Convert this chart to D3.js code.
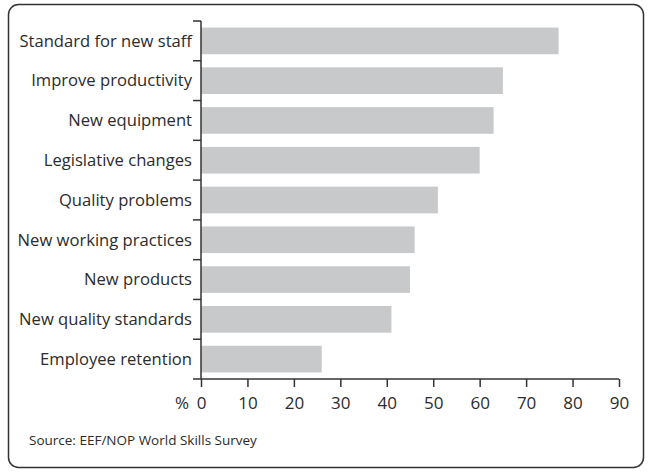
<!DOCTYPE html>
<html>
<head>
<meta charset="utf-8">
<script src="https://cdn.jsdelivr.net/npm/d3@7"></script>
<style>
  html, body { margin: 0; padding: 0; background: #fff; }
  svg { display: block; }
  text { font-family: "Open Sans", "Noto Sans", sans-serif; fill: #2b2b2b; }
</style>
</head>
<body>
<script>
// Reasons for training (% of companies)
const categories = [
  "Standard for new staff",
  "Improve productivity",
  "New equipment",
  "Legislative changes",
  "Quality problems",
  "New working practices",
  "New products",
  "New quality standards",
  "Employee retention"
];
const values = [77, 65, 63, 60, 51, 46, 45, 41, 26];
const xTicks = [0, 10, 20, 30, 40, 50, 60, 70, 80, 90];
const unitLabel = "%";
const sourceText = "Source: EEF/NOP World Skills Survey";

const W = 648, H = 472;
const margin = { left: 201, right: 29, top: 21, bottom: 93 };
const fontFamily = "\"Open Sans\", \"Noto Sans\", sans-serif";

const svg = d3.select("body").append("svg")
  .attr("width", W).attr("height", H);

// Rounded outer frame
svg.append("rect")
  .attr("x", 8.5).attr("y", 4.5)
  .attr("width", 635).attr("height", 463)
  .attr("rx", 10).attr("ry", 10)
  .attr("fill", "none").attr("stroke", "#333").attr("stroke-width", 1.5);

const x = d3.scaleLinear()
  .domain([0, 90])
  .range([margin.left, W - margin.right]);

const y = d3.scaleBand()
  .domain(categories)
  .range([margin.top, H - margin.bottom])
  .paddingInner(0.33)
  .paddingOuter(0.165);

// Bars
svg.append("g").selectAll("rect")
  .data(categories)
  .join("rect")
  .attr("x", x(0))
  .attr("y", d => y(d))
  .attr("width", (d, i) => x(values[i]) - x(0))
  .attr("height", y.bandwidth())
  .attr("fill", "#c8c9cb");

// Category axis: line with ticks at band boundaries
const yAxisG = svg.append("g");
yAxisG.append("line")
  .attr("x1", x(0)).attr("x2", x(0))
  .attr("y1", margin.top).attr("y2", H - margin.bottom)
  .attr("stroke", "#333").attr("stroke-width", 1.5);
const boundaries = categories.map(c => y(c) - y.step() * y.paddingInner() / 2);
yAxisG.selectAll(".bt")
  .data(boundaries)
  .join("line")
  .attr("x1", x(0) - 8).attr("x2", x(0))
  .attr("y1", d => d).attr("y2", d => d)
  .attr("stroke", "#333").attr("stroke-width", 1.5);
yAxisG.selectAll("text")
  .data(categories)
  .join("text")
  .attr("x", x(0) - 9)
  .attr("y", d => y(d) + y.bandwidth() / 2)
  .attr("dy", "0.35em")
  .attr("text-anchor", "end")
  .attr("font-size", 16.6)
  .text(d => d);

// Value axis
const xAxis = d3.axisBottom(x)
  .tickValues(xTicks)
  .tickSize(8)
  .tickSizeOuter(0)
  .tickPadding(10);
const xAxisG = svg.append("g")
  .attr("transform", `translate(0,${H - margin.bottom})`)
  .call(xAxis);
xAxisG.select(".domain")
  .attr("stroke", "#333").attr("stroke-width", 1.5)
  .attr("d", `M${x(0) - 8},0H${x(90)}`);
xAxisG.selectAll(".tick line").attr("stroke", "#333").attr("stroke-width", 1.5);
xAxisG.selectAll(".tick text")
  .attr("font-size", 17)
  .attr("font-family", fontFamily)
  .attr("fill", "#2b2b2b");

svg.append("text")
  .attr("x", x(0) - 12)
  .attr("y", H - margin.bottom + 18)
  .attr("dy", "0.71em")
  .attr("text-anchor", "end")
  .attr("font-size", 17)
  .text(unitLabel);

svg.append("text")
  .attr("x", 29)
  .attr("y", 445)
  .attr("font-size", 13.5)
  .text(sourceText);
</script>
</body>
</html>
